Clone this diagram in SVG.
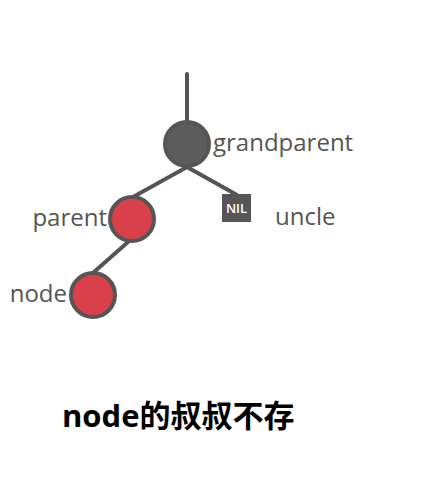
<svg xmlns="http://www.w3.org/2000/svg" width="438" height="499" viewBox="0 0 438 499">
<style>
.edge{stroke:#555;stroke-width:4;stroke-linecap:round;fill:none}
.nd{stroke:#555;stroke-width:4}
.lbl{font-family:"Open Sans","Noto Sans",sans-serif;font-size:24px;fill:#555}
.title{font-family:"Open Sans","Noto Sans CJK SC",sans-serif;font-size:31px;font-weight:bold;fill:#000}
</style>
<rect width="438" height="499" fill="#fff"/>
<g id="connectors">
<line class="edge" x1="187" y1="74" x2="187" y2="122"/>
<line class="edge" x1="187" y1="167" x2="133" y2="197"/>
<line class="edge" x1="187" y1="167" x2="237" y2="195"/>
<line class="edge" x1="128" y1="242" x2="94" y2="272"/>
</g>
<g id="grandparent">
<circle class="nd" cx="187" cy="144" r="22" fill="#5c5c5c"/>
<text class="lbl" x="213" y="151">grandparent</text>
</g>
<g id="parent">
<circle class="nd" cx="132" cy="219" r="22" fill="#d9404a"/>
<text class="lbl" x="107" y="226" text-anchor="end">parent</text>
</g>
<g id="node">
<circle class="nd" cx="93" cy="295" r="22" fill="#d9404a"/>
<text class="lbl" x="67" y="302" text-anchor="end">node</text>
</g>
<g id="uncle">
<rect x="222" y="194" width="29" height="28" fill="#555"/>
<text x="236.5" y="213" text-anchor="middle" font-family="'Open Sans',sans-serif" font-size="13" font-weight="600" fill="#fff">NIL</text>
<text class="lbl" x="275" y="225">uncle</text>
</g>
<text class="title" x="62" y="427">node的叔叔不存</text>
</svg>
